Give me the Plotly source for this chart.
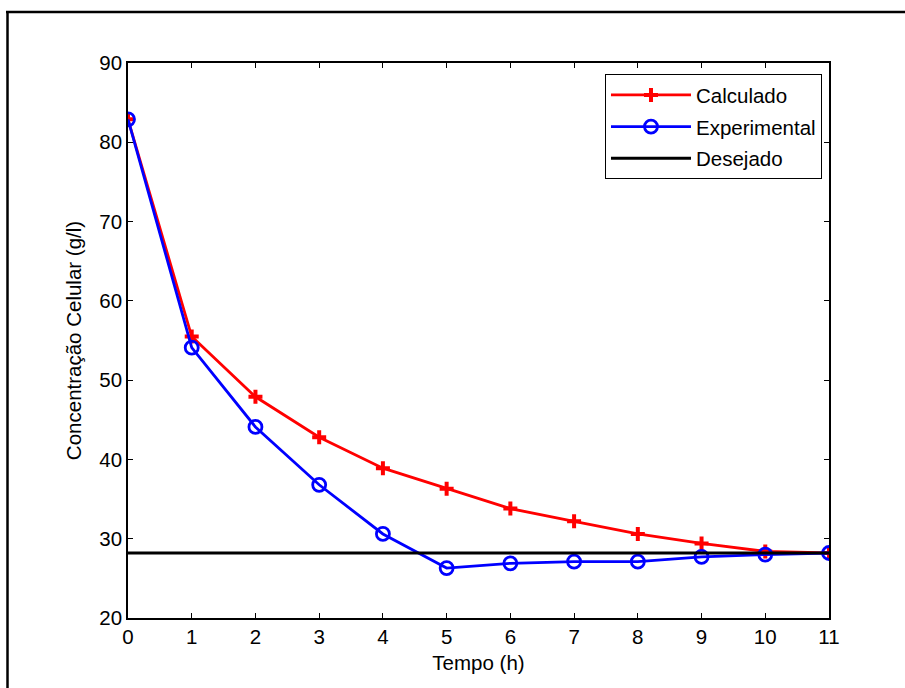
import plotly.graph_objects as go

tempo = [0, 1, 2, 3, 4, 5, 6, 7, 8, 9, 10, 11]
calculado = [82.9, 55.5, 47.9, 42.8, 38.9, 36.3, 33.8, 32.2, 30.6, 29.4, 28.4, 28.2]
experimental = [82.9, 54.1, 44.1, 36.8, 30.6, 26.3, 26.9, 27.1, 27.1, 27.7, 28.0, 28.2]
desejado_x = [0, 11]
desejado_y = [28.2, 28.2]

x_ticks = list(range(0, 12))
y_ticks = [20, 30, 40, 50, 60, 70, 80, 90]

W, H = 905, 688
ML, MR, MT, MB = 128, 76, 63, 70
PW, PH = W - ML - MR, H - MT - MB

fig = go.Figure()
fig.add_trace(go.Scatter(
    x=tempo, y=calculado, mode="lines+markers", name="Calculado", legendgroup="a",
    line=dict(color="#ff0000", width=2.8),
    marker=dict(symbol="cross-thin", size=10, line=dict(color="#ff0000", width=4), color="#ff0000"),
))
fig.add_trace(go.Scatter(
    x=tempo, y=experimental, mode="lines+markers", name="Experimental", legendgroup="b",
    line=dict(color="#0000ff", width=2.8),
    marker=dict(symbol="circle-open", size=13, line=dict(color="#0000ff", width=2.8), color="#0000ff"),
))
fig.add_trace(go.Scatter(
    x=desejado_x, y=desejado_y, mode="lines", name="Desejado", legendgroup="c",
    line=dict(color="#000000", width=3),
))

def px_to_paper_x(p):
    return (p - ML) / PW

def px_to_paper_y(p):
    return (H - MB - p) / PH

# outer frame lines (top and left visible)
fig.add_shape(type="line", xref="paper", yref="paper",
              x0=px_to_paper_x(6), x1=px_to_paper_x(910), y0=px_to_paper_y(12), y1=px_to_paper_y(12),
              line=dict(color="black", width=2.5))
fig.add_shape(type="line", xref="paper", yref="paper",
              x0=px_to_paper_x(7.5), x1=px_to_paper_x(7.5), y0=px_to_paper_y(11), y1=px_to_paper_y(700),
              line=dict(color="black", width=2.5))

font = dict(family="Liberation Sans, Arial, sans-serif", size=20.5, color="black")

fig.update_layout(
    width=W, height=H,
    margin=dict(l=ML, r=MR, t=MT, b=MB),
    paper_bgcolor="white", plot_bgcolor="white",
    font=font,
    showlegend=True,
    legend=dict(
        x=0.990, y=0.980, xanchor="right", yanchor="top",
        bgcolor="white", bordercolor="black", borderwidth=1,
        font=font,
        tracegroupgap=2, itemwidth=80,
    ),
    xaxis=dict(
        range=[0, 11], tickvals=x_ticks, ticktext=[str(v) for v in x_ticks],
        ticks="inside", ticklen=5, tickcolor="black", tickwidth=1,
        showline=True, linecolor="black", linewidth=1.5, mirror="ticks",
        showgrid=False, zeroline=False,
        title=dict(text="Tempo (h)", standoff=8, font=font),
        tickfont=font,
    ),
    yaxis=dict(
        range=[20, 90], tickvals=y_ticks, ticktext=[str(v) for v in y_ticks],
        ticks="inside", ticklen=5, tickcolor="black", tickwidth=1,
        showline=True, linecolor="black", linewidth=1.5, mirror="ticks",
        showgrid=False, zeroline=False,
        title=dict(text="Concentração Celular (g/l)", standoff=12, font=font),
        tickfont=font,
    ),
)

fig.write_html("out.html")
